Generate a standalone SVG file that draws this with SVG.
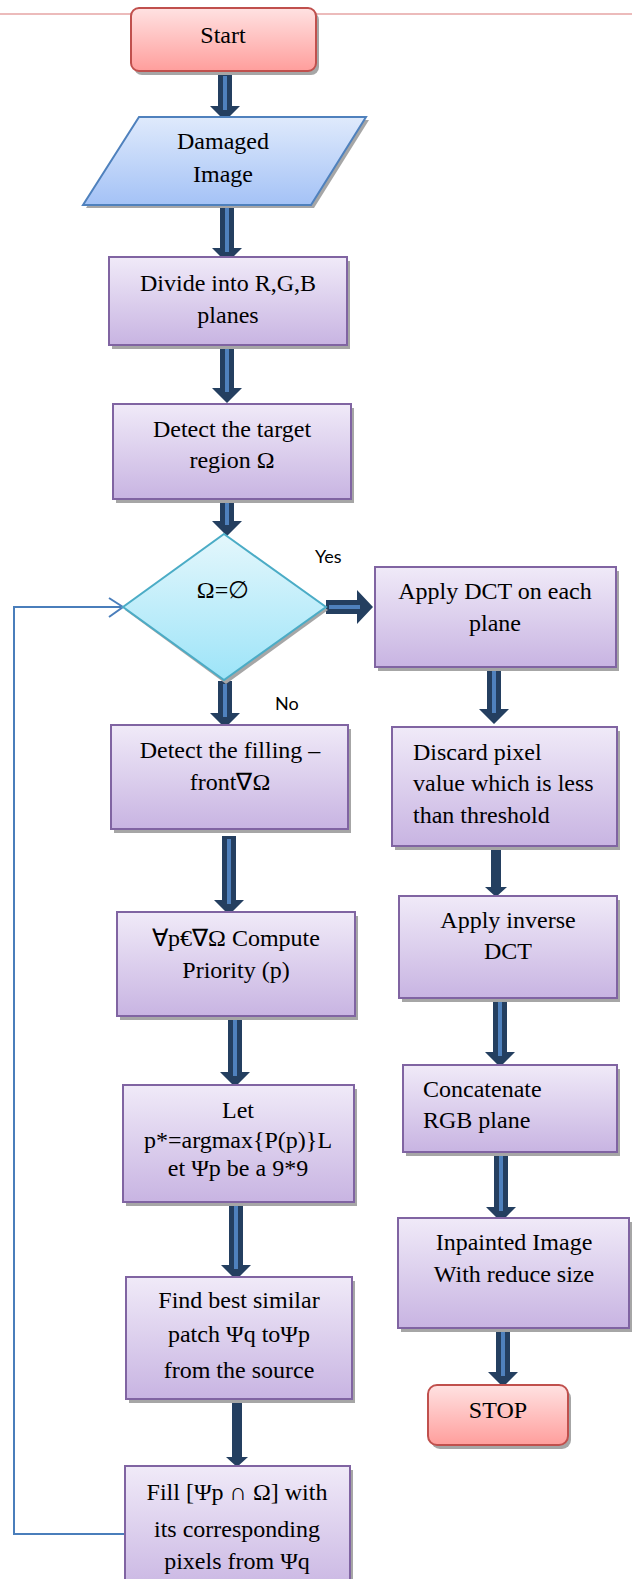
<svg xmlns="http://www.w3.org/2000/svg" width="632" height="1579" viewBox="0 0 632 1579">
<defs>
<linearGradient id="gP" x1="0" y1="0" x2="0" y2="1"><stop offset="0" stop-color="#f0eaf8"/><stop offset="1" stop-color="#c8b4e2"/></linearGradient>
<linearGradient id="gR" x1="0" y1="0" x2="0" y2="1"><stop offset="0" stop-color="#ffe2e2"/><stop offset="1" stop-color="#ff9e9c"/></linearGradient>
<linearGradient id="gB" x1="0" y1="0" x2="0" y2="1"><stop offset="0" stop-color="#dfeafc"/><stop offset="1" stop-color="#a4c2f6"/></linearGradient>
<linearGradient id="gC" x1="0" y1="0" x2="0" y2="1"><stop offset="0" stop-color="#e4f7fc"/><stop offset="1" stop-color="#9de4f8"/></linearGradient>
<style>
.box{fill:url(#gP);stroke:#8064a2;stroke-width:2}
.term{fill:url(#gR);stroke:#c0504d;stroke-width:2}
.sh{fill:#a6a6a6}
.t{font-family:"Liberation Serif","Times New Roman",serif;font-size:24px;fill:#000}
.c{text-anchor:middle}
.lbl{font-family:Lato,"Liberation Sans",sans-serif;font-size:18px;fill:#000}
.ad{fill:#243f60}
.ai{fill:#4f81bd}
.loop{fill:none;stroke:#4a7ebb;stroke-width:2}
</style>
</defs>
<rect width="632" height="1579" fill="#ffffff"/>
<line x1="0" y1="14" x2="632" y2="14" stroke="#e6a4a4" stroke-width="1.5"/>

<g id="connectors">
<path class="ad" d="M218,73H232V106H240L225,121L210,106H218Z"/><rect class="ai" x="223" y="76" width="4" height="34"/>
<path class="ad" d="M220,204H234V248H242L227,263L212,248H220Z"/><rect class="ai" x="225" y="207" width="4" height="45"/>
<path class="ad" d="M220,345H234V388H242L227,403L212,388H220Z"/><rect class="ai" x="225" y="348" width="4" height="44"/>
<path class="ad" d="M220,496H234V521H242L227,536L212,521H220Z"/><rect class="ai" x="225" y="499" width="4" height="26"/>
<path class="ad" d="M218,681H232V713H240L225,728L210,713H218Z"/><rect class="ai" x="223" y="684" width="4" height="33"/>
<path class="ad" d="M222,836H236V900H244L229,915L214,900H222Z"/><rect class="ai" x="227" y="839" width="4" height="65"/>
<path class="ad" d="M228,1016H242V1072H250L235,1087L220,1072H228Z"/><rect class="ai" x="233" y="1019" width="4" height="57"/>
<path class="ad" d="M229,1202H243V1265H251L236,1280L221,1265H229Z"/><rect class="ai" x="234" y="1205" width="4" height="64"/>
<path class="ad" d="M232,1399H242V1457H248L237,1467L226,1457H232Z"/>
<path class="ad" d="M487,667H501V709H509L494,724L479,709H487Z"/><rect class="ai" x="492" y="670" width="4" height="43"/>
<path class="ad" d="M491,846H501V887H507L496,897L485,887H491Z"/>
<path class="ad" d="M493,998H507V1052H515L500,1067L485,1052H493Z"/><rect class="ai" x="498" y="1001" width="4" height="55"/>
<path class="ad" d="M494,1152H508V1207H516L501,1222L486,1207H494Z"/><rect class="ai" x="499" y="1155" width="4" height="56"/>
<path class="ad" d="M496,1328H510V1372H518L503,1387L488,1372H496Z"/><rect class="ai" x="501" y="1331" width="4" height="45"/>
<path class="ad" d="M326,600H357V590L373,607L357,624V614H326Z"/><rect class="ai" x="329" y="605" width="31" height="4"/>
<polyline class="loop" points="124,1534 14,1534 14,607 121,607"/>
<polyline class="loop" points="109,598 123,607 109,617"/>
<text class="lbl" x="315" y="563">Yes</text>
<text class="lbl" x="275" y="710">No</text>
</g>

<g id="start">
<rect class="sh" x="134" y="12" width="185" height="63" rx="8"/>
<rect class="term" x="131" y="8" width="185" height="63" rx="8"/>
<text class="t c" x="223" y="43">Start</text>
</g>

<g id="damaged">
<polygon class="sh" points="142,120 369,120 314,208 86,208"/>
<polygon points="139,117 366,117 311,205 83,205" fill="url(#gB)" stroke="#4f81bd" stroke-width="2"/>
<text class="t c" x="223" y="149">Damaged</text>
<text class="t c" x="223" y="182">Image</text>
</g>

<g id="divide">
<rect class="sh" x="112" y="261" width="238" height="88"/>
<rect class="box" x="109" y="257" width="238" height="88"/>
<text class="t c" x="228" y="291">Divide into R,G,B</text>
<text class="t c" x="228" y="323">planes</text>
</g>

<g id="detect-target">
<rect class="sh" x="116" y="408" width="238" height="95"/>
<rect class="box" x="113" y="404" width="238" height="95"/>
<text class="t c" x="232" y="437">Detect the target</text>
<text class="t c" x="232" y="468">region Ω</text>
</g>

<g id="decision">
<polygon class="sh" points="226,537 328,610 226,684 125,610"/>
<polygon points="224,534 326,607 224,680 123,607" fill="url(#gC)" stroke="#4bacc6" stroke-width="2"/>
<text class="t c" x="223" y="598">Ω=∅</text>
</g>

<g id="detect-filling">
<rect class="sh" x="114" y="729" width="237" height="104"/>
<rect class="box" x="111" y="725" width="237" height="104"/>
<text class="t c" x="230" y="758">Detect the filling –</text>
<text class="t c" x="230" y="790">front∇Ω</text>
</g>

<g id="priority">
<rect class="sh" x="120" y="916" width="238" height="104"/>
<rect class="box" x="117" y="912" width="238" height="104"/>
<text class="t c" x="236" y="946">∀p€∇Ω Compute</text>
<text class="t c" x="236" y="978">Priority (p)</text>
</g>

<g id="let">
<rect class="sh" x="126" y="1089" width="231" height="117"/>
<rect class="box" x="123" y="1085" width="231" height="117"/>
<text class="t c" x="238" y="1118">Let</text>
<text class="t c" x="238" y="1148">p*=argmax{P(p)}L</text>
<text class="t c" x="238" y="1176">et Ψp be a 9*9</text>
</g>

<g id="find">
<rect class="sh" x="129" y="1281" width="226" height="122"/>
<rect class="box" x="126" y="1277" width="226" height="122"/>
<text class="t c" x="239" y="1308">Find best similar</text>
<text class="t c" x="239" y="1342">patch Ψq toΨp</text>
<text class="t c" x="239" y="1378">from the source</text>
</g>

<g id="fill">
<rect class="sh" x="128" y="1470" width="225" height="130"/>
<rect class="box" x="125" y="1466" width="225" height="130"/>
<text class="t c" x="237" y="1500">Fill [Ψp ∩ Ω] with</text>
<text class="t c" x="237" y="1537">its corresponding</text>
<text class="t c" x="237" y="1569">pixels from Ψq</text>
</g>

<g id="apply-dct">
<rect class="sh" x="378" y="571" width="241" height="100"/>
<rect class="box" x="375" y="567" width="241" height="100"/>
<text class="t c" x="495" y="599">Apply DCT on each</text>
<text class="t c" x="495" y="631">plane</text>
</g>

<g id="discard">
<rect class="sh" x="395" y="731" width="225" height="119"/>
<rect class="box" x="392" y="727" width="225" height="119"/>
<text class="t" x="413" y="760">Discard pixel</text>
<text class="t" x="413" y="791">value which is less</text>
<text class="t" x="413" y="823">than threshold</text>
</g>

<g id="inverse-dct">
<rect class="sh" x="402" y="900" width="218" height="102"/>
<rect class="box" x="399" y="896" width="218" height="102"/>
<text class="t c" x="508" y="928">Apply inverse</text>
<text class="t c" x="508" y="959">DCT</text>
</g>

<g id="concatenate">
<rect class="sh" x="406" y="1069" width="214" height="87"/>
<rect class="box" x="403" y="1065" width="214" height="87"/>
<text class="t" x="423" y="1097">Concatenate</text>
<text class="t" x="423" y="1128">RGB plane</text>
</g>

<g id="inpainted">
<rect class="sh" x="401" y="1222" width="231" height="110"/>
<rect class="box" x="398" y="1218" width="231" height="110"/>
<text class="t c" x="514" y="1250">Inpainted Image</text>
<text class="t c" x="514" y="1282">With reduce size</text>
</g>

<g id="stop">
<rect class="sh" x="431" y="1389" width="140" height="60" rx="9"/>
<rect class="term" x="428" y="1385" width="140" height="60" rx="9"/>
<text class="t c" x="498" y="1418">STOP</text>
</g>
</svg>
